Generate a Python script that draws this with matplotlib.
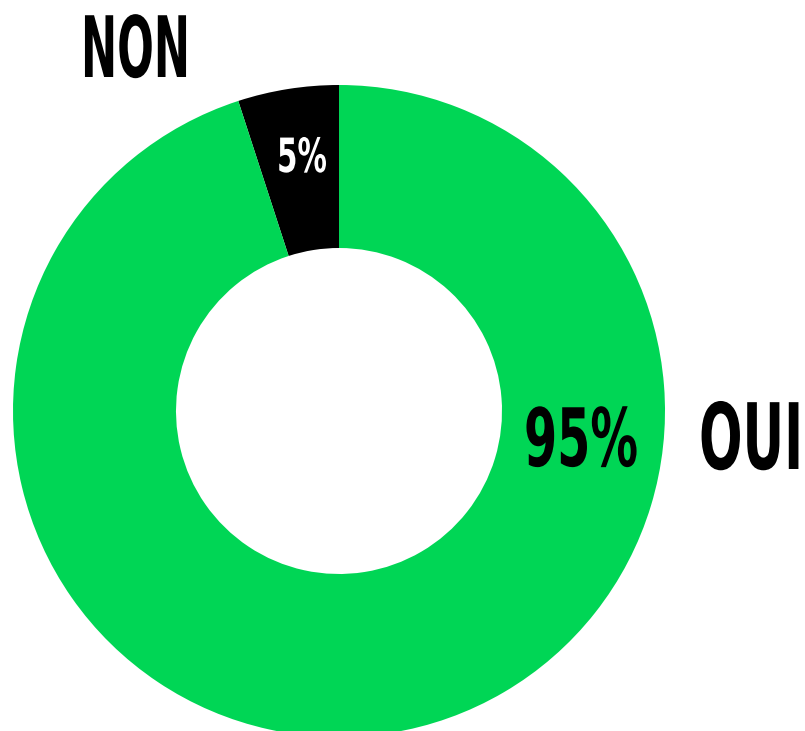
import matplotlib
matplotlib.use('Agg')
import matplotlib.pyplot as plt
from matplotlib import font_manager
from matplotlib.patheffects import AbstractPathEffect
from matplotlib.transforms import Affine2D

# Survey answers
labels = ["NON", "OUI"]
shares = [5, 95]
colors = ["#000000", "#00d655"]
pct_colors = ["white", "black"]

W, H = 805, 731


def narrow_bold_font():
    """Pick the narrowest bold face that is installed, else DejaVu Sans Bold."""
    order = {'ultra-condensed': 0, 'extra-condensed': 1, 'condensed': 2,
             'semi-condensed': 3}
    best = None
    for f in font_manager.fontManager.ttflist:
        w = f.weight if isinstance(f.weight, int) else 700 if 'bold' in str(f.weight) else 400
        narrow = f.stretch in order or 'Narrow' in f.name or 'Condensed' in f.name
        if not narrow or w < 600 or f.style != 'normal':
            continue
        rank = order.get(f.stretch, 2)
        if best is None or rank < best[0]:
            best = (rank, f.fname)
    if best:
        return font_manager.FontProperties(fname=best[1])
    return font_manager.FontProperties(family='DejaVu Sans', weight='bold')


class Tall(AbstractPathEffect):
    """Draw glyphs stretched vertically about the baseline."""

    def __init__(self, sy):
        super().__init__()
        self.sy = sy

    def draw_path(self, renderer, gc, tpath, affine, rgbFace=None):
        renderer.draw_path(gc, tpath, Affine2D().scale(1, self.sy) + affine, rgbFace)


FP = narrow_bold_font()

fig = plt.figure(figsize=(W / 100, H / 100), dpi=100)
ax = fig.add_axes([0, 0, 1, 1])

cx, cy, r = 339, H - 411, 326
ax.pie(shares, colors=colors, startangle=90, counterclock=True,
       center=(cx, cy), radius=r, frame=True,
       wedgeprops=dict(width=r * 0.5, linewidth=0))
ax.set_xlim(0, W)
ax.set_ylim(0, H)
ax.axis('off')

renderer = fig.canvas.get_renderer()


def label(s, left, baseline, size, width, color):
    # size sets the glyph height; the font is shrunk to fit width, then drawn taller
    t = ax.text(left, H - baseline, s, color=color, fontproperties=FP,
                fontsize=size, ha='left', va='baseline')
    fit = size * width / t.get_window_extent(renderer).width
    t.set_fontsize(fit)
    t.set_path_effects([Tall(size / fit)])
    return t


# percentage labels inside the ring
label(f"{shares[0]}%", 277, 172, 34, 50, pct_colors[0])
label(f"{shares[1]}%", 524, 466, 58, 114, pct_colors[1])

# category names outside the ring
label(labels[0], 81, 77, 61, 109, 'black')
label(labels[1], 699, 469, 66, 104, 'black')

fig.savefig('out.png', dpi=100)
